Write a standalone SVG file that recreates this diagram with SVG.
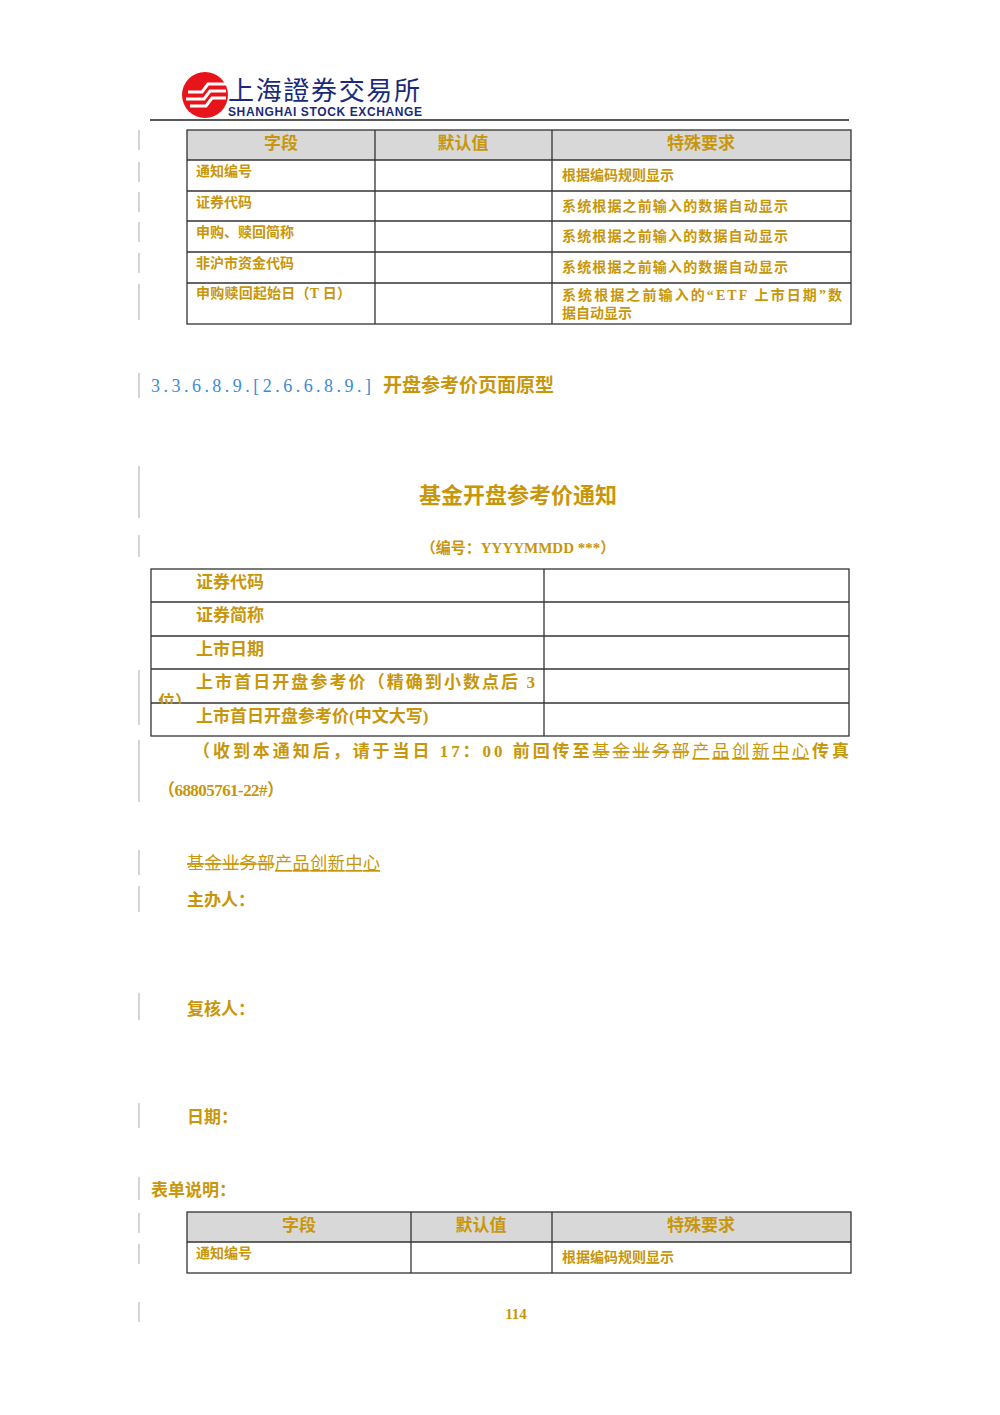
<svg xmlns="http://www.w3.org/2000/svg" width="1000" height="1415" viewBox="0 0 1000 1415">
<style>
.g{fill:#C8960A;font-family:"Liberation Serif","Noto Sans CJK SC",serif}
.b{font-weight:bold}
.t{fill:none;stroke:#333;stroke-width:1.3}
.bar{stroke:#aaa;stroke-width:1}
</style>
<rect width="1000" height="1415" fill="#fff"/>
<g id="logo">
<circle cx="205" cy="95" r="23" fill="#E8141C"/>
<path d="M188 92 h14 l6 -8 h18 M186 99 h18 l6 -8 h16 M190 106 h16 l6 -8 h14" stroke="#fff" stroke-width="3" fill="none"/>
<text x="228" y="100" font-family="'Noto Sans CJK SC',serif" font-size="26" fill="#1A2A7A" textLength="192" lengthAdjust="spacing">上海證券交易所</text>
<text x="228" y="116" font-family="'Liberation Sans',sans-serif" font-size="12" font-weight="bold" fill="#1A2A7A" textLength="194" lengthAdjust="spacing">SHANGHAI  STOCK  EXCHANGE</text>
<line x1="150" y1="120" x2="849" y2="120" stroke="#222" stroke-width="1.5"/>
</g>
<g id="bars">
<line class="bar" x1="139" y1="130" x2="139" y2="150"/><line class="bar" x1="139" y1="162" x2="139" y2="182"/><line class="bar" x1="139" y1="192" x2="139" y2="212"/><line class="bar" x1="139" y1="222" x2="139" y2="242"/><line class="bar" x1="139" y1="253" x2="139" y2="273"/><line class="bar" x1="139" y1="284" x2="139" y2="320"/>
<line class="bar" x1="139" y1="373" x2="139" y2="398"/><line class="bar" x1="139" y1="466" x2="139" y2="518"/><line class="bar" x1="139" y1="535" x2="139" y2="557"/>
<line class="bar" x1="139" y1="670" x2="139" y2="725"/><line class="bar" x1="139" y1="740" x2="139" y2="802"/><line class="bar" x1="139" y1="850" x2="139" y2="875"/><line class="bar" x1="139" y1="886" x2="139" y2="912"/>
<line class="bar" x1="139" y1="993" x2="139" y2="1020"/><line class="bar" x1="139" y1="1103" x2="139" y2="1128"/><line class="bar" x1="139" y1="1177" x2="139" y2="1200"/><line class="bar" x1="139" y1="1213" x2="139" y2="1233"/><line class="bar" x1="139" y1="1244" x2="139" y2="1264"/><line class="bar" x1="139" y1="1302" x2="139" y2="1322"/>
</g>
<g id="table1">
<rect x="187" y="130" width="664" height="30" fill="#D8D8D8"/>
<rect class="t" x="187" y="130" width="664" height="194"/>
<line class="t" x1="187" y1="160" x2="851" y2="160"/><line class="t" x1="187" y1="191" x2="851" y2="191"/><line class="t" x1="187" y1="221" x2="851" y2="221"/><line class="t" x1="187" y1="252" x2="851" y2="252"/><line class="t" x1="187" y1="283" x2="851" y2="283"/>
<line class="t" x1="375" y1="130" x2="375" y2="324"/><line class="t" x1="552" y1="130" x2="552" y2="324"/>
<g class="g b" font-size="17" text-anchor="middle"><text x="281" y="149">字段</text><text x="463" y="149">默认值</text><text x="701" y="149">特殊要求</text></g>
<g class="g b" font-size="14"><text x="196" y="176">通知编号</text><text x="196" y="207">证券代码</text><text x="196" y="237">申购、赎回简称</text><text x="196" y="268">非沪市资金代码</text><text x="196" y="298" textLength="155">申购赎回起始日（T 日）</text>
<text x="562" y="180">根据编码规则显示</text><text x="562" y="211" textLength="226">系统根据之前输入的数据自动显示</text><text x="562" y="241" textLength="226">系统根据之前输入的数据自动显示</text><text x="562" y="272" textLength="226">系统根据之前输入的数据自动显示</text><text x="562" y="300" textLength="280">系统根据之前输入的“ETF 上市日期”数</text><text x="562" y="318">据自动显示</text></g>
</g>
<g id="heading">
<text x="151" y="392" font-size="18" fill="#3C8CD2" font-family="'Liberation Serif',serif" textLength="220" lengthAdjust="spacing">3.3.6.8.9.[2.6.6.8.9.]</text>
<text x="383" y="392" font-size="19" class="g b">开盘参考价页面原型</text>
</g>
<text x="518" y="503" text-anchor="middle" font-size="22" class="g b">基金开盘参考价通知</text>
<text x="518" y="553" text-anchor="middle" font-size="15" class="g b">（编号：YYYYMMDD ***）</text>
<g id="table2">
<rect class="t" x="151" y="569" width="698" height="167"/>
<line class="t" x1="151" y1="602" x2="849" y2="602"/><line class="t" x1="151" y1="636" x2="849" y2="636"/><line class="t" x1="151" y1="669" x2="849" y2="669"/><line class="t" x1="151" y1="703" x2="849" y2="703"/>
<line class="t" x1="544" y1="569" x2="544" y2="736"/>
<g class="g b" font-size="17"><text x="196" y="588">证券代码</text><text x="196" y="621">证券简称</text><text x="196" y="655">上市日期</text><text x="196" y="688" textLength="339" lengthAdjust="spacing">上市首日开盘参考价（精确到小数点后 3</text><text x="158" y="708">位）</text><text x="196" y="722">上市首日开盘参考价(中文大写)</text></g>
<rect x="152" y="704" width="30" height="6" fill="#fff"/>
</g>
<g class="g b" font-size="17">
<text x="193" y="757" textLength="656" lengthAdjust="spacing">（收到本通知后，请于当日 17：00 前回传至<tspan font-weight="normal" text-decoration="line-through">基金业务部</tspan><tspan font-weight="normal" text-decoration="underline">产品创新中心</tspan>传真</text>
<text x="158" y="796" textLength="126">（68805761-22#）</text>
<text x="187" y="869" font-weight="normal" textLength="193"><tspan text-decoration="line-through">基金业务部</tspan><tspan text-decoration="underline">产品创新中心</tspan></text>
<text x="187" y="906">主办人：</text>
<text x="187" y="1015">复核人：</text>
<text x="187" y="1123">日期：</text>
<text x="151" y="1196">表单说明：</text>
</g>
<g id="table3">
<rect x="187" y="1212" width="664" height="30" fill="#D8D8D8"/>
<rect class="t" x="187" y="1212" width="664" height="61"/>
<line class="t" x1="187" y1="1242" x2="851" y2="1242"/>
<line class="t" x1="411" y1="1212" x2="411" y2="1273"/><line class="t" x1="552" y1="1212" x2="552" y2="1273"/>
<g class="g b" font-size="17" text-anchor="middle"><text x="299" y="1231">字段</text><text x="481" y="1231">默认值</text><text x="701" y="1231">特殊要求</text></g>
<g class="g b" font-size="14"><text x="196" y="1258">通知编号</text><text x="562" y="1262">根据编码规则显示</text></g>
</g>
<text x="516" y="1319" text-anchor="middle" font-size="15" class="g b">114</text>
</svg>
